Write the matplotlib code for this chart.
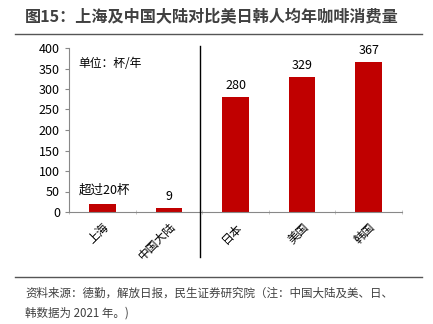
import matplotlib
matplotlib.use('Agg')
import matplotlib.pyplot as plt
import numpy as np

plt.rcParams['font.family'] = ['Noto Sans CJK SC', 'DejaVu Sans']

regioes = ['上海', '中国大陆', '日本', '美国', '韩国']
consumo = [20, 9, 280, 329, 367]
rotulos = ['超过20杯', '9', '280', '329', '367']

cor_barra = '#c00000'
cor_texto = '#404040'

fig = plt.figure(figsize=(4.33, 3.24), dpi=100)
ax = fig.add_axes([69 / 433, 1 - 212 / 324, 333 / 433, 164 / 324])

x = np.arange(len(regioes))
ax.bar(x, consumo, width=0.4, color=cor_barra, zorder=2)

for xi, v, r in zip(x, consumo, rotulos):
    if xi == 0:
        ax.text(xi - 0.36, v + 18, r, ha='left', va='bottom', fontsize=9, color='black')
    else:
        ax.text(xi, v + 12, r, ha='center', va='bottom', fontsize=9, color='black')

ax.text(-0.36, 362, '单位：杯/年', ha='left', va='center', fontsize=8.5, color='black')

ax.set_xlim(-0.5, len(regioes) - 0.5)
ax.set_ylim(0, 400)
ax.set_yticks(range(0, 401, 50))
ax.set_xticks(x)
ax.set_xticklabels(regioes, rotation=45, ha='right', rotation_mode='anchor', fontsize=8.5)
ax.set_xticks(np.arange(-0.5, len(regioes), 1), minor=True)
ax.tick_params(axis='x', which='major', length=0, pad=6)
ax.tick_params(axis='x', which='minor', length=3, color='#bfbfbf', direction='inout')
ax.tick_params(axis='y', labelsize=9, length=3, color='#888888', labelcolor='black')

for s in ['top', 'right']:
    ax.spines[s].set_visible(False)
ax.spines['left'].set_color('#888888')
ax.spines['bottom'].set_color('#888888')

# linha separando China dos outros paises
ax.plot([1.47, 1.47], [405, -110], color='black', lw=1, clip_on=False, zorder=3)

fig.text(25 / 433, 1 - 16 / 324, '图15：上海及中国大陆对比美日韩人均年咖啡消费量',
         fontsize=11.6, fontweight='bold', color=cor_texto, va='center', ha='left')
fig.add_artist(plt.Line2D([15 / 433, 422 / 433], [1 - 34 / 324] * 2, color='#555555', lw=1))
fig.add_artist(plt.Line2D([15 / 433, 422 / 433], [1 - 277 / 324] * 2, color='#555555', lw=1))

fig.text(25 / 433, 1 - 293 / 324, '资料来源：德勤，解放日报，民生证券研究院（注：中国大陆及美、日、',
         fontsize=8.3, color=cor_texto, va='center', ha='left')
fig.text(25 / 433, 1 - 313 / 324, '韩数据为 2021 年。)',
         fontsize=8.3, color=cor_texto, va='center', ha='left')

fig.savefig('out.png', dpi=100, facecolor='white')
plt.close('all')
